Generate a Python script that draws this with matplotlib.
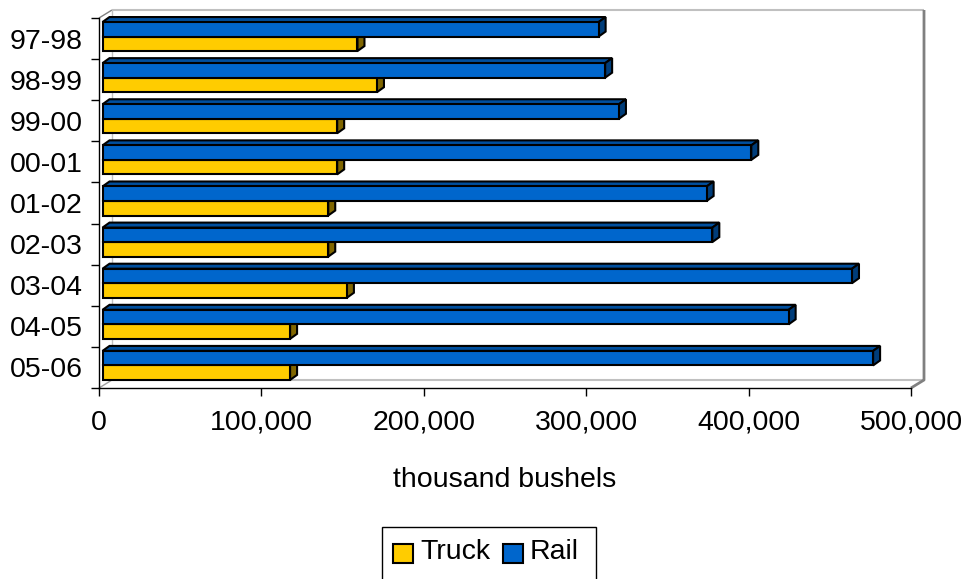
import numpy as np
import matplotlib
matplotlib.use('Agg')
import matplotlib.pyplot as plt
from matplotlib.patches import Polygon, Rectangle
from matplotlib.ticker import FuncFormatter

plt.rcParams['font.family'] = ['Liberation Sans', 'DejaVu Sans']

# data (thousand bushels)
years = ['97-98', '98-99', '99-00', '00-01', '01-02', '02-03', '03-04', '04-05', '05-06']
truck = [157000, 169000, 144500, 144500, 139000, 139000, 150500, 115500, 115500]
rail = [305500, 309500, 318000, 399500, 372000, 375500, 461500, 422500, 474500]

truck_col = ('#ffcc00', '#b38f00', '#806600')   # front, top, side
rail_col = ('#0066cc', '#004f9e', '#003d7a')

W, H = 969, 579
fig = plt.figure(figsize=(W / 100, H / 100), dpi=100)

# front plane of the plot area, in pixels from the top-left corner
L, R, T, B = 99, 911, 18, 388
ax = fig.add_axes([L / W, 1 - B / H, (R - L) / W, (B - T) / H])
xmax = 500000
n = len(years)
ax.set_xlim(0, xmax)
ax.set_ylim(n, 0)
ux = xmax / (R - L)  # data units per pixel
uy = n / (B - T)


def off(x, y, dx, dy):
    # shift a point dx px right and dy px up
    return (x + dx * ux, y - dy * uy)


# walls (depth offset of the back wall)
wx, wy = 13, 8
tl = off(0, 0, wx, wy)
bl = off(0, n, wx, wy)
tr = off(xmax, 0, wx, wy)
br = off(xmax, n, wx, wy)
kw = dict(clip_on=False, zorder=1, solid_capstyle='butt')
ax.plot([0, tl[0]], [0, tl[1]], color='#808080', lw=1, **kw)
ax.plot([0, bl[0]], [n, bl[1]], color='#a0a0a0', lw=1, **kw)
ax.plot([tl[0], tr[0]], [tl[1], tr[1]], color='#c0c0c0', lw=1.5, **kw)
ax.plot([tl[0], bl[0]], [tl[1], bl[1]], color='#c0c0c0', lw=1, **kw)
ax.plot([bl[0], br[0]], [bl[1], br[1]], color='#c0c0c0', lw=1.5, **kw)
ax.plot([tr[0], br[0], xmax], [tr[1], br[1], n], color='#808080', lw=2, **kw)

# 3d bars
fx, fy = 3.5, 2     # front face offset from the front plane
gx, gy = 10.5, 7    # back face offset
h = 0.353


def bar3d(val, y0, y1, cols):
    front, top, side = cols
    a = off(0, y0, fx, fy)
    b = off(val, y0, fx, fy)
    c = off(val, y1, fx, fy)
    d = off(0, y1, fx, fy)
    b2 = off(val, y0, gx, gy)
    a2 = off(0, y0, gx, gy)
    c2 = off(val, y1, gx, gy)
    pk = dict(ec='black', lw=1.5, joinstyle='miter', clip_on=False, zorder=3)
    ax.add_patch(Polygon([a, b, b2, a2], fc=top, **pk))
    ax.add_patch(Polygon([b, b2, c2, c], fc=side, **pk))
    ax.add_patch(Polygon([a, b, c, d], fc=front, **pk))


for i in range(n):
    c = i + 0.5
    bar3d(truck[i], c, c + h, truck_col)
    bar3d(rail[i], c - h, c, rail_col)

# axes
for s in ['top', 'right']:
    ax.spines[s].set_visible(False)
for s in ['left', 'bottom']:
    ax.spines[s].set_color('black')
    ax.spines[s].set_linewidth(1)
ax.set_xticks(np.arange(0, xmax + 1, 100000))
ax.xaxis.set_major_formatter(FuncFormatter(lambda v, p: f'{int(v):,}'))
ax.tick_params(axis='x', direction='out', length=5.8, width=1, pad=10, labelsize=20.5)
ax.set_yticks(np.arange(0, n + 1))
ax.set_yticklabels([])
ax.set_yticks(np.arange(n) + 0.5, minor=True)
ax.set_yticklabels(years, minor=True)
ax.tick_params(axis='y', which='major', direction='out', length=5.8, width=1)
ax.tick_params(axis='y', which='minor', length=0, pad=11.5, labelsize=20.5)
ax.set_xlabel('thousand bushels', fontsize=20.5, va='center')
ax.xaxis.set_label_coords(0.5, -92 / (B - T))


# legend
def fpos(x, y):
    return (x / W, 1 - y / H)


fig.add_artist(Rectangle(fpos(382, 600), (596 - 382) / W, (600 - 527) / H,
                         transform=fig.transFigure, fill=False, ec='black', lw=1))
for x0, col, lab in [(393, truck_col[0], 'Truck'), (503, rail_col[0], 'Rail')]:
    fig.add_artist(Rectangle(fpos(x0, 563), 20 / W, 19 / H, transform=fig.transFigure,
                             fc=col, ec='black', lw=1.5))
    fig.text(*fpos(x0 + 27, 552), lab, fontsize=20.5, ha='left', va='center')

fig.savefig('out.png', dpi=100)
